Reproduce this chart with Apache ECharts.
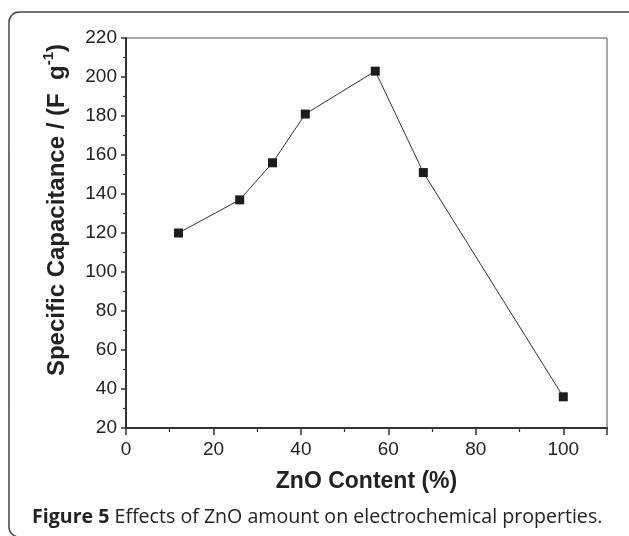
<!DOCTYPE html>
<html>
<head>
<meta charset="utf-8">
<script src="https://cdn.jsdelivr.net/npm/echarts@6/dist/echarts.min.js"></script>
<style>
html,body{margin:0;padding:0;background:#fff;}
#chart{width:629px;height:536px;}
</style>
</head>
<body>
<div id="chart"></div>
<script>
// Data
const zno = [12, 26, 33.5, 41, 57, 68, 100];          // ZnO content (%)
const capacitance = [120, 137, 156, 181, 203, 151, 36]; // Specific capacitance (F g^-1)
const xTitle = 'ZnO Content (%)';
const yTitleMain = 'Specific Capacitance / (F  g';
const yTitleSup = '-1';
const captionBold = 'Figure 5';
const captionRest = ' Effects of ZnO amount on electrochemical properties.';

const points = zno.map((x, i) => [x, capacitance[i]]);
const chart = echarts.init(document.getElementById('chart'), null, {renderer: 'canvas'});
const axisFont = 'Liberation Sans, Arial, Helvetica, sans-serif';
const ink = '#222';

chart.setOption({
  animation: false,
  backgroundColor: '#fff',
  grid: {left: 126, right: 22, top: 38, bottom: 108, show: true, borderColor: '#555', borderWidth: 1, containLabel: false},
  xAxis: {
    type: 'value', min: 0, max: 110, interval: 20,
    axisLine: {show: true, onZero: false, lineStyle: {color: '#333', width: 2}},
    axisTick: {show: true, inside: false, length: 7, lineStyle: {color: '#333', width: 1.5}},
    minorTick: {show: true, splitNumber: 2, length: 4, lineStyle: {color: '#333', width: 1.2}},
    splitLine: {show: false},
    axisLabel: {showMaxLabel: false, margin: 12, color: ink, fontSize: 19, fontFamily: axisFont},
    name: xTitle, nameLocation: 'middle', nameGap: 42,
    nameTextStyle: {color: ink, fontSize: 23, fontWeight: 'bold', fontFamily: axisFont}
  },
  yAxis: {
    type: 'value', min: 20, max: 220, interval: 20,
    axisLine: {show: true, onZero: false, lineStyle: {color: '#333', width: 2}},
    axisTick: {show: true, inside: false, length: 5, lineStyle: {color: '#333', width: 1.5}},
    minorTick: {show: true, splitNumber: 2, length: 3, lineStyle: {color: '#333', width: 1.2}},
    splitLine: {show: false},
    axisLabel: {margin: 9, color: ink, fontSize: 19, fontFamily: axisFont}
  },
  series: [{
    type: 'line',
    data: points,
    symbol: 'rect', symbolSize: 9,
    itemStyle: {color: '#1c1c1c'},
    lineStyle: {color: '#333', width: 1},
    z: 5
  }],
  graphic: [
    {
      type: 'rect', silent: true,
      shape: {x: 9, y: 12, width: 640, height: 525, r: 10},
      style: {fill: 'none', stroke: '#444', lineWidth: 1.5}
    },
    {
      type: 'text', silent: true,
      x: 55, y: 210, rotation: Math.PI / 2,
      style: {
        text: '{m|' + yTitleMain + '}{s|' + yTitleSup + '}{m|)}',
        align: 'center', verticalAlign: 'middle',
        rich: {
          m: {fontSize: 24, fontWeight: 'bold', fontFamily: axisFont, fill: ink, lineHeight: 28, verticalAlign: 'bottom'},
          s: {fontSize: 15, fontWeight: 'bold', fontFamily: axisFont, fill: ink, lineHeight: 28, verticalAlign: 'top', padding: [0,0,10,0]}
        }
      }
    },
    {
      type: 'text', silent: true,
      x: 32, y: 517,
      style: {
        text: '{b|' + captionBold + '}{r|' + captionRest + '}',
        align: 'left', verticalAlign: 'middle',
        rich: {
          b: {fontSize: 19.6, fontWeight: 'bold', fontFamily: 'Open Sans, sans-serif', fill: ink},
          r: {fontSize: 19.6, fontFamily: 'Open Sans, sans-serif', fill: ink}
        }
      }
    }
  ]
});
</script>
</body>
</html>
